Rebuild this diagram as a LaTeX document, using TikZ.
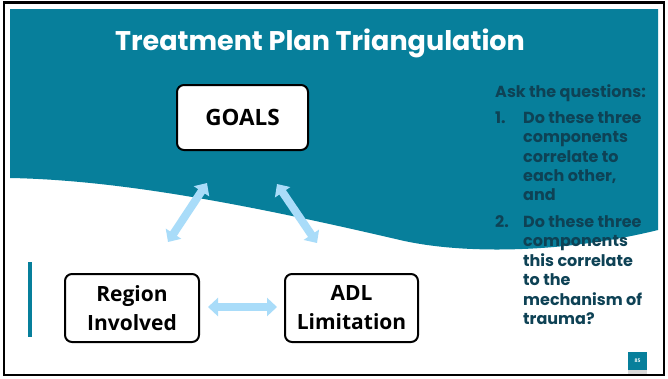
\documentclass[tikz,border=0pt]{standalone}
\usepackage{fontspec}
\usetikzlibrary{arrows.meta}
\newfontfamily\titlefont{Poppins}
\newfontfamily\boxfont{Open Sans}
\definecolor{teal}{HTML}{077F9B}
\definecolor{lightblue}{HTML}{A9DCF9}
\definecolor{qtext}{HTML}{0E4255}
\tikzset{
  boxnode/.style={draw=black, line width=2pt, rounded corners=7pt, fill=white,
    align=center, font=\boxfont\bfseries\fontsize{21}{29}\selectfont, inner sep=0pt},
  bluearrow/.style={draw=lightblue, line width=8pt,
    {Triangle[width=18pt,length=10pt]}-{Triangle[width=18pt,length=10pt]}},
  qstyle/.style={anchor=base west, text=qtext, inner sep=0pt,
    font=\titlefont\bfseries\fontsize{16}{19.4}\selectfont}
}
\begin{document}
\begin{tikzpicture}[x=1pt,y=-1pt]
\useasboundingbox (0,0) rectangle (668,378);
\fill[white] (0,0) rectangle (668,378);
% teal wave background
\fill[teal] (10,9) -- (658,9) -- (658,230)
  .. controls (560,254) and (460,254) .. (400,240)
  .. controls (250,205) and (120,180) .. (10,178) -- cycle;
% frame
\draw[black, line width=2.5pt] (4,2.5) rectangle (664,375);
% title
\node[text=white, font=\titlefont\bfseries\fontsize{27}{32}\selectfont, inner sep=0pt] (title) at (320,43) {Treatment Plan Triangulation};
% left bar
\fill[teal] (28,262) rectangle (32,337);
% boxes
\node[boxnode, minimum width=131pt, minimum height=65pt, font=\boxfont\bfseries\fontsize{22.5}{29}\selectfont] (goals) at (242.5,117.5) {GOALS};
\node[boxnode, minimum width=134pt, minimum height=68pt] (region) at (132,308) {Region\\Involved};
\node[boxnode, minimum width=133pt, minimum height=68pt] (adl) at (351.5,308) {ADL\\Limitation};
% arrows
\coordinate (la1) at (168,242);
\coordinate (la2) at (207,183);
\coordinate (ra1) at (277,184);
\coordinate (ra2) at (317,243);
\coordinate (ha1) at (208,307);
\coordinate (ha2) at (277,307);
\draw[bluearrow] (la1) -- (la2);
\draw[bluearrow] (ra1) -- (ra2);
\draw[bluearrow] (ha1) -- (ha2);
% questions
\node[qstyle] (ask) at (495,97) {Ask the questions:};
\node[qstyle] (n1) at (495,123) {1.};
\foreach \t/\y [count=\i] in {{Do these three}/123, {components}/142.5, {correlate to}/162, {each other,}/181, {and}/200}
  \node[qstyle] (qa\i) at (523,\y) {\t};
\node[qstyle] (n2) at (495,227) {2.};
\foreach \t/\y [count=\i] in {{Do these three}/227, {components}/246.5, {this correlate}/266, {to the}/285.5, {mechanism of}/305, {trauma?}/324}
  \node[qstyle] (qb\i) at (523,\y) {\t};
% page number
\fill[black!15] (628,369) rectangle (647,374);
\node[fill=teal, minimum width=19pt, minimum height=18pt, inner sep=0pt, text=white,
  font=\boxfont\bfseries\fontsize{5}{6}\selectfont] (pg) at (637.5,361) {85};
\end{tikzpicture}
\end{document}
